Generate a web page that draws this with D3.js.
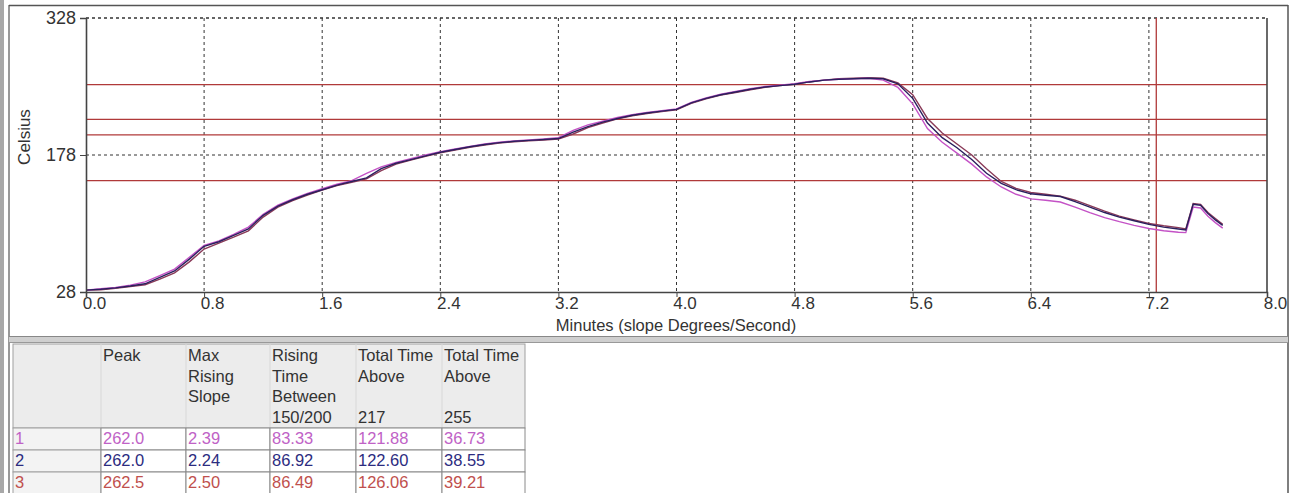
<!DOCTYPE html>
<html>
<head>
<meta charset="utf-8">
<script src="https://cdn.jsdelivr.net/npm/d3@7"></script>
<style>
  body { margin: 0; background: #fff; }
  svg { display: block; font-family: 'Liberation Sans', Arial, sans-serif; }
</style>
</head>
<body>
<svg id="container" width="1293" height="493"></svg>
<script>
// time in minutes
const minutes = [0.0,0.1,0.2,0.3,0.4,0.5,0.6,0.7,0.8,0.9,1.0,1.1,1.2,1.3,1.4,1.5,1.6,1.7,1.8,1.9,
  2.0,2.1,2.2,2.3,2.4,2.5,2.6,2.7,2.8,2.9,3.0,3.1,3.2,3.3,3.4,3.5,3.6,3.7,3.8,3.9,
  4.0,4.1,4.2,4.3,4.4,4.5,4.6,4.7,4.8,4.9,5.0,5.1,5.2,5.3,5.4,5.5,5.6,5.7,5.8,5.9,
  6.0,6.1,6.2,6.3,6.4,6.5,6.6,6.7,6.8,6.9,7.0,7.1,7.2,7.3,7.4,7.45,7.5,7.55,7.6,7.65,7.7]

const probe1 = [30,31.5,33,35.5,39,46,53,66,79,84,91,99,113,123,130,136,141,146,150,158,
  165,170,174,178,181.5,184.5,187.5,190,192,193.5,194.5,195.5,197,205,211,215,219,222,224.5,226.5,
  228.5,235.5,240.5,244.5,247.5,250.5,253,254.5,256,258.5,260,261,261.5,262,260,252,234,207,192,180,
  168,154,143,135,130,128.5,126.5,121,115,109.5,105,101,97.5,95,93.5,93,121,120,111,104,98]

const probe2 = [30,31,32.5,34.5,37,44,51,64,78,83,90,97,112,122,129,135,140,145,149,153,
  163,169,173,177,181,184,187,189.5,191.5,193,194,195,196,203,209,214,218,221.5,224,226,
  228,235,240,244,247,250,252.5,254,255.5,258,260,261,261.5,262,261.5,256,240,213,197,186,
  173,158,147,140,135.5,134,132.5,127,121,115,110,106,102,99,97,96,124,123,114,107,101]

const probe3 = [30,30.5,32,34,36,42,49,61,75,81.5,88,95,110,121,128,134,139.5,144.5,148,152,
  161,168,172.5,176.5,180.5,183.5,186.5,189,191,192.5,193.5,194.5,195.5,201,208,213,217.5,221,223.5,225.5,
  227.5,234.5,239.5,243.5,246.5,249.5,252,254,255.5,258,260,261.5,262,262.5,262,257,244,218,202,190,
  178,163,149,141.5,137,135,133,128.5,122.5,116.5,111,107,103,100.5,98.5,97,125,124,115,108.5,102]

const limitLines = [255, 217, 200, 150]
const markerMinute = 7.25
const xTicks = [0.0, 0.8, 1.6, 2.4, 3.2, 4.0, 4.8, 5.6, 6.4, 7.2, 8.0]
const yTicks = [28, 178, 328]

// table
const rowLabels = ['1', '2', '3']
const headers = [
  ['Peak'],
  ['Max', 'Rising', 'Slope'],
  ['Rising', 'Time', 'Between', '150/200'],
  ['Total Time', 'Above', '', '217'],
  ['Total Time', 'Above', '', '255'],
]
const peak = ['262.0', '262.0', '262.5']
const maxRisingSlope = ['2.39', '2.24', '2.50']
const risingTime = ['83.33', '86.92', '86.49']
const timeAbove217 = ['121.88', '122.60', '126.06']
const timeAbove255 = ['36.73', '38.55', '39.21']

const lineColors = ['#c452c6', '#2a1f5e', '#8a3a58']
const textColors = ['#c062c6', '#2c2c80', '#c0504d']

const svg = d3.select('#container')

// window frame
svg.append('rect').attr('x', 0).attr('y', 0).attr('width', 4).attr('height', 493).attr('fill', '#a8a8a8')
svg.append('line').attr('x1', 9).attr('x2', 9).attr('y1', 5).attr('y2', 493).attr('stroke', '#777').attr('stroke-width', 1.5)
svg.append('line').attr('x1', 9).attr('x2', 1288).attr('y1', 5.5).attr('y2', 5.5).attr('stroke', '#555').attr('stroke-width', 1.5)
svg.append('line').attr('x1', 1288).attr('x2', 1288).attr('y1', 5).attr('y2', 493).attr('stroke', '#555').attr('stroke-width', 1.5)
svg.append('rect').attr('x', 9).attr('y', 336).attr('width', 1279).attr('height', 7).attr('fill', '#cfcfcf')
svg.append('line').attr('x1', 9).attr('x2', 1288).attr('y1', 336.5).attr('y2', 336.5).attr('stroke', '#888')
svg.append('line').attr('x1', 9).attr('x2', 1288).attr('y1', 342.5).attr('y2', 342.5).attr('stroke', '#999')

// chart
const x = d3.scaleLinear().domain([0, 8]).range([86, 1267])
const y = d3.scaleLinear().domain([28, 328]).range([292, 18])

const grid = svg.append('g')
grid.selectAll('line.vg')
  .data(xTicks.slice(1, -1))
  .enter()
  .append('line')
  .attr('x1', (d) => x(d)).attr('x2', (d) => x(d))
  .attr('y1', y(328)).attr('y2', y(28))
  .attr('stroke', '#333').attr('stroke-dasharray', '3,3')
grid.selectAll('line.hg')
  .data([178, 328])
  .enter()
  .append('line')
  .attr('x1', x(0)).attr('x2', x(8))
  .attr('y1', (d) => y(d)).attr('y2', (d) => y(d))
  .attr('stroke', '#333').attr('stroke-width', (d) => (d === 328 ? 1.6 : 1)).attr('stroke-dasharray', '3,3')

// limit lines
svg.selectAll('line.limit')
  .data(limitLines)
  .enter()
  .append('line')
  .attr('x1', x(0)).attr('x2', x(8))
  .attr('y1', (d) => y(d)).attr('y2', (d) => y(d))
  .attr('stroke', '#b03a3a').attr('stroke-width', 1.3)
svg.append('line')
  .attr('x1', x(markerMinute)).attr('x2', x(markerMinute))
  .attr('y1', y(328)).attr('y2', y(28))
  .attr('stroke', '#b03a3a').attr('stroke-width', 1.3)

// curves
const line = d3.line().x((d) => x(d[0])).y((d) => y(d[1]))
const series = [probe3, probe1, probe2]
const seriesColors = [lineColors[2], lineColors[0], lineColors[1]]
series.forEach((s, i) => {
  svg.append('path')
    .datum(minutes.map((m, j) => [m, s[j]]))
    .attr('d', line)
    .attr('fill', 'none')
    .attr('stroke', seriesColors[i])
    .attr('stroke-width', 1.4)
})

// axes
const xAxis = svg.append('g').attr('transform', `translate(0, ${y(28)})`)
  .call(d3.axisBottom(x).tickValues(xTicks).tickSize(5).tickFormat(d3.format('.1f')))
xAxis.select('.domain').attr('stroke', '#444').attr('stroke-width', 1.6)
xAxis.selectAll('.tick line').attr('stroke', '#444')
xAxis.selectAll('.tick text').attr('font-size', 17).attr('fill', '#333').attr('dx', 8).attr('y', 5)

const yAxis = svg.append('g').attr('transform', `translate(${x(0)}, 0)`)
  .call(d3.axisLeft(y).tickValues(yTicks).tickSize(6))
yAxis.select('.domain').attr('stroke', '#444').attr('stroke-width', 1.6)
yAxis.selectAll('.tick line').attr('stroke', '#444')
yAxis.selectAll('.tick text').attr('font-size', 18).attr('fill', '#333').attr('x', -10)

svg.append('line')
  .attr('x1', x(8)).attr('x2', x(8)).attr('y1', y(328)).attr('y2', y(28))
  .attr('stroke', '#444').attr('stroke-width', 1.6)

svg.append('text')
  .attr('transform', 'translate(30, 137) rotate(-90)')
  .attr('text-anchor', 'middle')
  .attr('font-size', 17).attr('fill', '#333')
  .text('Celsius')
svg.append('text')
  .attr('x', 676).attr('y', 331)
  .attr('text-anchor', 'middle')
  .attr('font-size', 16.5).attr('fill', '#333')
  .text('Minutes (slope Degrees/Second)')

// table
const colX = [13, 101, 186, 270, 356, 442, 525]
const rowY = [344, 428, 450, 472, 494]
const columns = [peak, maxRisingSlope, risingTime, timeAbove217, timeAbove255]
const table = svg.append('g').attr('font-size', 16.5)

table.append('rect')
  .attr('x', colX[0]).attr('y', rowY[0])
  .attr('width', colX[6] - colX[0]).attr('height', rowY[1] - rowY[0])
  .attr('fill', '#ececec').attr('stroke', '#a0a0a0')
table.selectAll('line.hsep')
  .data(colX.slice(1, 6))
  .enter()
  .append('line')
  .attr('x1', (d) => d).attr('x2', (d) => d)
  .attr('y1', rowY[0]).attr('y2', rowY[1])
  .attr('stroke', '#d8d8d8')

headers.forEach((lines, c) => {
  lines.forEach((t, k) => {
    table.append('text')
      .attr('x', colX[c + 1] + 2).attr('y', 361 + k * 20.5)
      .attr('fill', '#333')
      .text(t)
  })
})

rowLabels.forEach((label, r) => {
  table.append('rect')
    .attr('x', colX[0]).attr('y', rowY[r + 1])
    .attr('width', colX[1] - colX[0]).attr('height', rowY[r + 2] - rowY[r + 1])
    .attr('fill', '#f3f3f3').attr('stroke', '#a0a0a0')
  table.append('text')
    .attr('x', colX[0] + 2).attr('y', rowY[r + 1] + 16)
    .attr('fill', textColors[r])
    .text(label)
  columns.forEach((col, c) => {
    table.append('rect')
      .attr('x', colX[c + 1]).attr('y', rowY[r + 1])
      .attr('width', colX[c + 2] - colX[c + 1]).attr('height', rowY[r + 2] - rowY[r + 1])
      .attr('fill', '#fff').attr('stroke', '#8a8a8a')
    table.append('text')
      .attr('x', colX[c + 1] + 2).attr('y', rowY[r + 1] + 16)
      .attr('fill', textColors[r])
      .text(col[r])
  })
})
</script>
</body>
</html>
